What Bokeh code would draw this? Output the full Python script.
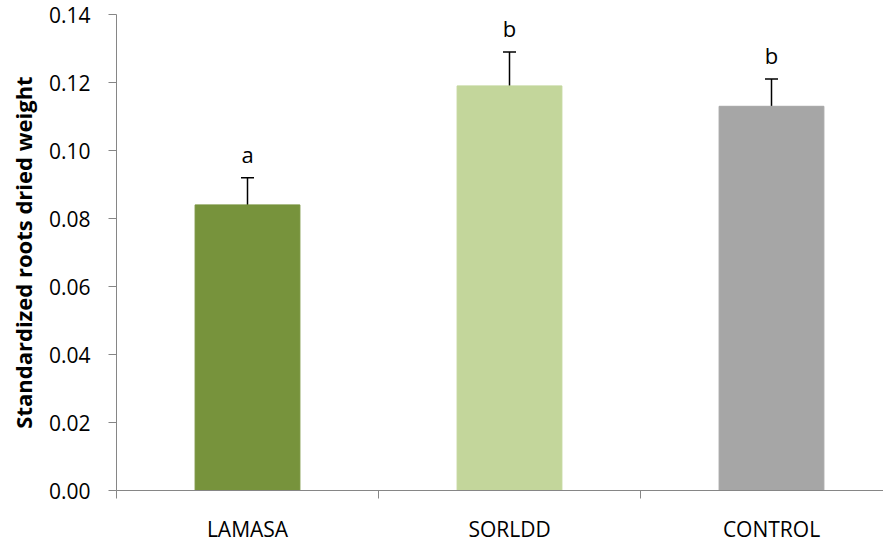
from bokeh.plotting import figure
from bokeh.models import Range1d, FixedTicker, ColumnDataSource, Whisker, TeeHead
from bokeh.core.properties import value
from bokeh.embed import file_html
from bokeh.resources import INLINE

categories = ["LAMASA", "SORLDD", "CONTROL"]
means = [0.084, 0.119, 0.113]
errors = [0.008, 0.010, 0.008]
letters = ["a", "b", "b"]
colors = ["#77933C", "#C3D69B", "#A6A6A6"]
y_ticks = [0.0, 0.02, 0.04, 0.06, 0.08, 0.10, 0.12, 0.14]

FONT = "Open Sans"

xs = [i + 0.5 for i in range(len(categories))]
tops = [m + e for m, e in zip(means, errors)]
src = ColumnDataSource(dict(x=xs, top=means, upper=tops, lower=means,
                            color=colors, letter=letters))

p = figure(frame_width=767, frame_height=476, output_backend="svg", toolbar_location=None,
           x_range=Range1d(0, 767 / 262), y_range=Range1d(0, 0.14),
           min_border_left=116, min_border_top=14, min_border_right=0,
           min_border_bottom=48)
p.outline_line_color = None
p.xgrid.visible = False
p.ygrid.visible = False

p.vbar(x="x", top="top", width=0.4, color="color", source=src)

w = Whisker(base="x", upper="upper", lower="lower", source=src,
            line_color="black", line_width=1.5,
            upper_head=TeeHead(size=13, line_color="black", line_width=1.5),
            lower_head=None)
p.add_layout(w)

p.text(x="x", y="upper", text="letter", source=src, y_offset=-24,
       text_align="center", text_baseline="alphabetic",
       text_font=value(FONT), text_font_size="22px", text_color="black")

axis_color = "#868686"
# y axis
yax = p.yaxis[0]
yax.ticker = FixedTicker(ticks=y_ticks, minor_ticks=[])
yax.major_label_overrides = {t: f"{t:.2f}" for t in y_ticks}
yax.axis_line_color = axis_color
yax.major_tick_line_color = axis_color
yax.major_tick_out = 8
yax.major_tick_in = 0
yax.minor_tick_line_color = None
yax.major_label_text_font = FONT
yax.major_label_text_font_size = "21px"
yax.major_label_text_color = "black"
yax.major_label_standoff = 18
yax.axis_label = "Standardized roots dried weight"
yax.axis_label_text_font = FONT
yax.axis_label_text_font_style = "bold"
yax.axis_label_text_font_size = "22px"
yax.axis_label_text_color = "black"
yax.axis_label_standoff = 8

# x axis
xax = p.xaxis[0]
xax.ticker = FixedTicker(ticks=xs, minor_ticks=[float(i) for i in range(len(categories) + 1)])
xax.major_label_overrides = {x: c for x, c in zip(xs, categories)}
xax.axis_line_color = axis_color
xax.major_tick_line_color = None
xax.major_tick_out = 0
xax.minor_tick_line_color = axis_color
xax.minor_tick_out = 8
xax.minor_tick_in = 0
xax.major_label_text_font = FONT
xax.major_label_text_font_size = "21px"
xax.major_label_text_color = "black"
xax.major_label_standoff = 16

open("out.html", "w").write(file_html(p, INLINE))
